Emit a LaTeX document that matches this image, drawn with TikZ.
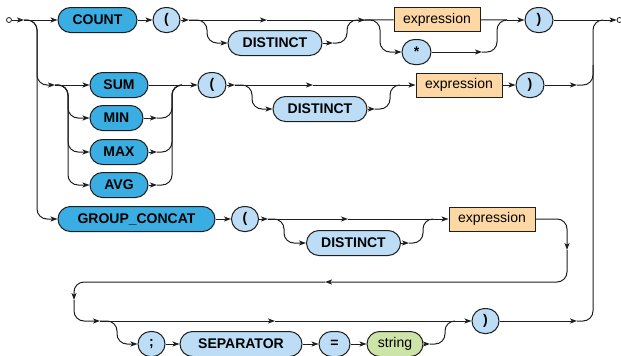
\documentclass[tikz,border=0pt]{standalone}
\usepackage{fontspec}
\setmainfont{Liberation Sans}
\usetikzlibrary{arrows.meta}
\definecolor{kwd}{HTML}{3AAEE3}
\definecolor{kwl}{HTML}{BCDDF5}
\definecolor{ntc}{HTML}{FDD8A4}
\definecolor{strc}{HTML}{CDE4A8}
\definecolor{ink}{HTML}{1E1E1E}
\begin{document}
\begin{tikzpicture}[x=1pt,y=-1pt, line width=1pt, draw=ink,
 base/.style={draw=ink, line width=1pt, minimum height=25pt, inner sep=0pt, font=\fontsize{14}{15}\selectfont\bfseries},
 kwA/.style={base, fill=kwd, rounded corners=12.5pt},
 kwB/.style={base, fill=kwl, rounded corners=12.5pt},
 ntbox/.style={base, fill=ntc, minimum height=24pt, font=\fontsize{14}{15}\selectfont},
 strbox/.style={base, fill=strc, rounded corners=12.5pt, font=\fontsize{14}{15}\selectfont},
 arr/.style={-{Stealth[length=7pt,width=5pt,inset=1.8pt]}},
 rc/.style={rounded corners=10pt},
 term/.style={draw=ink, circle, inner sep=0pt, minimum size=5pt, line width=0.8pt, fill=white}]
\useasboundingbox (0,0) rectangle (621,356);
% nodes
\node[term] (start) at (9,20) {};
\node[term] (end) at (619.5,20) {};
\node[kwA, minimum width=79pt] (count) at (97.5,20) {COUNT};
\node[kwB, minimum width=27pt] (lp1) at (166.5,20) {(};
\node[kwB, minimum width=94pt] (dist1) at (275,43) {DISTINCT};
\node[ntbox, minimum width=86pt] (expr1) at (437,19.5) {expression};
\node[kwB, minimum width=29pt] (star) at (416.5,52) {*};
\node[kwB, minimum width=28pt] (rp1) at (539,20) {)};
\node[kwA, minimum width=58pt] (sum) at (119,85) {SUM};
\node[kwA, minimum width=53pt] (min) at (116.5,118) {MIN};
\node[kwA, minimum width=58pt] (max) at (119,152) {MAX};
\node[kwA, minimum width=58pt] (avg) at (119,185) {AVG};
\node[kwB, minimum width=28pt] (lp2) at (212,85) {(};
\node[kwB, minimum width=94pt] (dist2) at (320,109) {DISTINCT};
\node[ntbox, minimum width=86pt] (expr2) at (459,85) {expression};
\node[kwB, minimum width=28pt] (rp2) at (530,85) {)};
\node[kwA, minimum width=157pt] (group) at (136.5,219) {GROUP\_CONCAT};
\node[kwB, minimum width=27pt] (lp3) at (245,219) {(};
\node[kwB, minimum width=94pt] (dist3) at (353.5,243) {DISTINCT};
\node[ntbox, minimum width=86pt] (expr3) at (492,219) {expression};
\node[kwB, minimum width=27pt] (semi) at (151.5,344) {;};
\node[kwB, minimum width=122pt] (sep) at (241,344) {SEPARATOR};
\node[kwB, minimum width=31pt] (eq) at (334.5,344) {=};
\node[strbox, minimum width=56pt] (str) at (395,344) {string};
\node[kwB, minimum width=27pt] (rp4) at (485.5,321) {)};
% junction coordinates
\coordinate (a1) at (24,20);
\coordinate (a2) at (55,85);
\coordinate (j1) at (189,20);
\coordinate (m1) at (267,20);
\coordinate (j2) at (365,20);
\coordinate (j3) at (333,43);
\coordinate (j4) at (482,52);
\coordinate (j5) at (507,20);
\coordinate (j7) at (182,85);
\coordinate (j8) at (235,85);
\coordinate (m2) at (313,85);
\coordinate (j9) at (375,109);
\coordinate (j10) at (577,85);
\coordinate (j11) at (268,219);
\coordinate (m3) at (348,219);
\coordinate (j12) at (409,243);
\coordinate (d1) at (567,250);
\coordinate (d2) at (325,282);
\coordinate (d3) at (74,300);
\coordinate (j13) at (100,321);
\coordinate (m4) at (275,321);
\coordinate (j14) at (430,344);
\coordinate (j15) at (577,321);
\coordinate (e1) at (157,118);
\coordinate (e2) at (157,152);
\coordinate (e3) at (157,185);
% start and left rail
\draw[arr] (start) -- (a1);
\draw[arr] (a1) -- (count);
\draw[rc,arr] (a1) -- (37,20) -- (37,85) -- (a2);
\draw[rc,arr] (a1) -- (37,20) -- (37,219) -- (group);
% row 1
\draw[arr] (count) -- (lp1);
\draw[arr] (lp1) -- (j1);
\draw[arr] (j1) -- (m1);
\draw[arr] (m1) -- (j2);
\draw[rc,arr] (j1) -- (207,20) -- (207,43) -- (dist1);
\draw[arr] (dist1) -- (j3);
\draw[rc] (j3) -- (347,43) -- (347,20) -- (j2);
\draw (j2) -- (expr1);
\draw[rc,arr] (j2) -- (380,20) -- (380,52) -- (star);
\draw[arr] (star) -- (j4);
\draw[rc] (j4) -- (497,52) -- (497,20) -- (j5);
\draw (expr1) -- (j5);
\draw[arr] (j5) -- (rp1);
\draw[arr] (rp1) -- (end);
% row 2
\draw[arr] (a2) -- (sum);
\draw[rc,arr] (a2) -- (68,85) -- (68,118) -- (min);
\draw[rc,arr] (a2) -- (68,85) -- (68,152) -- (max);
\draw[rc,arr] (a2) -- (68,85) -- (68,185) -- (avg);
\draw[arr] (min) -- (e1);
\draw[arr] (max) -- (e2);
\draw[arr] (avg) -- (e3);
\draw[rc] (e1) -- (172,118) -- (172,85) -- (j7);
\draw[rc] (e2) -- (172,152) -- (172,85) -- (j7);
\draw[rc] (e3) -- (172,185) -- (172,85) -- (j7);
\draw (sum) -- (j7);
\draw[arr] (j7) -- (lp2);
\draw[arr] (lp2) -- (j8);
\draw[arr] (j8) -- (m2);
\draw[arr] (m2) -- (expr2);
\draw[rc,arr] (j8) -- (252,85) -- (252,109) -- (dist2);
\draw[arr] (dist2) -- (j9);
\draw[rc] (j9) -- (390,109) -- (390,85) -- (400,85);
\draw[arr] (expr2) -- (rp2);
\draw[arr] (rp2) -- (j10);
\draw[rc] (j10) -- (593,85) -- (593,65);
% row 3
\draw[arr] (group) -- (lp3);
\draw[arr] (lp3) -- (j11);
\draw[arr] (j11) -- (m3);
\draw[arr] (m3) -- (expr3);
\draw[rc,arr] (j11) -- (284,219) -- (284,243) -- (dist3);
\draw[arr] (dist3) -- (j12);
\draw[rc] (j12) -- (423,243) -- (423,219) -- (433,219);
\draw[rc,arr] (expr3) -- (567,219) -- (d1);
\draw[rc,arr] (d1) -- (567,282) -- (d2);
\draw[rc,arr] (d2) -- (74,282) -- (d3);
\draw[rc,arr] (d3) -- (74,321) -- (j13);
% row 4
\draw[arr] (j13) -- (m4);
\draw[arr] (m4) -- (rp4);
\draw[rc,arr] (j13) -- (117,321) -- (117,344) -- (semi);
\draw[arr] (semi) -- (sep);
\draw[arr] (sep) -- (eq);
\draw[arr] (eq) -- (str);
\draw[arr] (str) -- (j14);
\draw[rc] (j14) -- (445,344) -- (445,321) -- (455,321);
\draw[arr] (rp4) -- (j15);
\draw[rc] (j15) -- (593,321) -- (593,20) -- (603,20);
\end{tikzpicture}
\end{document}
